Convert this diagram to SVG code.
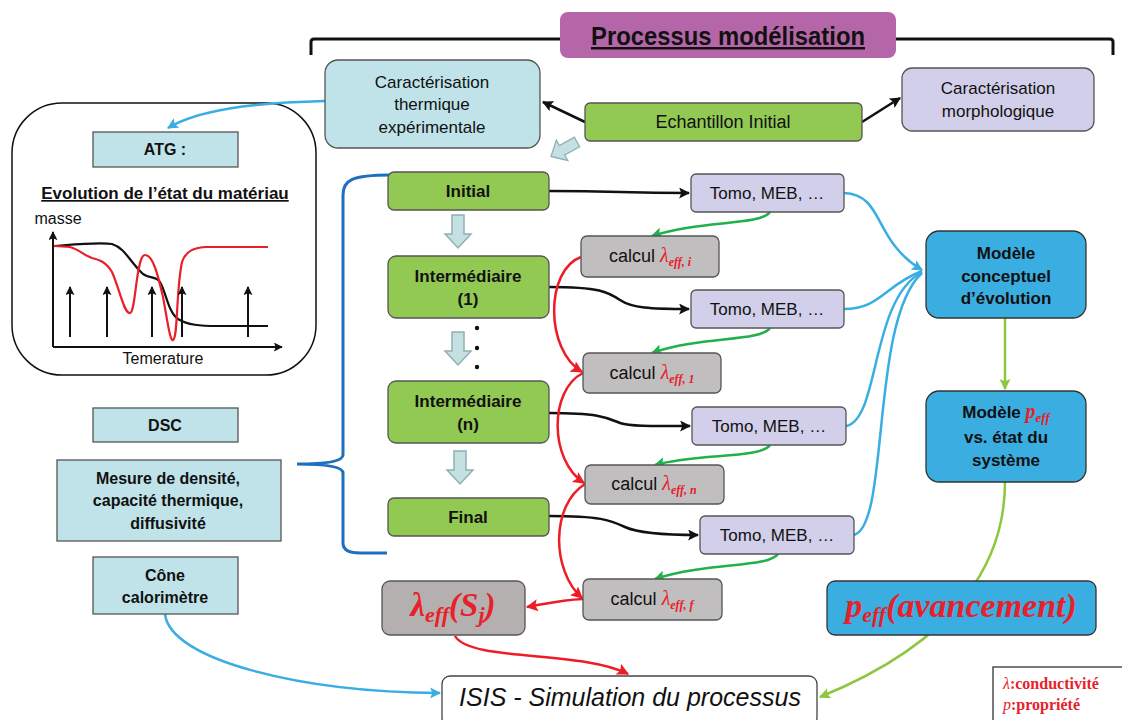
<svg xmlns="http://www.w3.org/2000/svg" width="1122" height="720" viewBox="0 0 1122 720" font-size="17">
<style>
.t{font-family:"Liberation Sans",Arial,sans-serif;fill:#111;text-anchor:middle}
.b{font-weight:bold}
.m{font-family:"Liberation Serif","Times New Roman",serif;font-style:italic;fill:#e8202a}
.lb{fill:#bfe3e9;stroke:#555;stroke-width:1.3}
.gr{fill:#92c952;stroke:#555;stroke-width:1.3}
.lv{fill:#d1cfe9;stroke:#555;stroke-width:1.3}
.gy{fill:#c0bebe;stroke:#555;stroke-width:1.3}
.bl{fill:#3aade1;stroke:#333;stroke-width:1.3}
.c{fill:none;stroke-width:2.5}
.k{stroke:#111}
.cb{stroke:#3aaee3}
.cg{stroke:#22b04b}
.cr{stroke:#ee1c24}
.cl{stroke:#8dc63f}
.hol{fill:#c5e0e3;stroke:#8fb0b3;stroke-width:1.5}
</style>
<defs>
<marker id="ak" viewBox="0 0 10 10" refX="9" refY="5" markerWidth="11" markerHeight="11" markerUnits="userSpaceOnUse" orient="auto"><path d="M0,0 L10,5 L0,10 L2,5 Z" fill="#111"/></marker>
<marker id="ab" viewBox="0 0 10 10" refX="9" refY="5" markerWidth="11" markerHeight="11" markerUnits="userSpaceOnUse" orient="auto"><path d="M0,0 L10,5 L0,10 L2,5 Z" fill="#3aaee3"/></marker>
<marker id="ag" viewBox="0 0 10 10" refX="9" refY="5" markerWidth="11" markerHeight="11" markerUnits="userSpaceOnUse" orient="auto"><path d="M0,0 L10,5 L0,10 L2,5 Z" fill="#22b04b"/></marker>
<marker id="ar" viewBox="0 0 10 10" refX="9" refY="5" markerWidth="12" markerHeight="12" markerUnits="userSpaceOnUse" orient="auto"><path d="M0,0 L10,5 L0,10 L2,5 Z" fill="#ee1c24"/></marker>
<marker id="al" viewBox="0 0 10 10" refX="9" refY="5" markerWidth="11" markerHeight="11" markerUnits="userSpaceOnUse" orient="auto"><path d="M0,0 L10,5 L0,10 L2,5 Z" fill="#8dc63f"/></marker>
<marker id="ak2" viewBox="0 0 10 10" refX="9" refY="5" markerWidth="9" markerHeight="9" markerUnits="userSpaceOnUse" orient="auto"><path d="M0,0 L10,5 L0,10 L2,5 Z" fill="#111"/></marker>
<path id="hollow" d="M-6,0 H6 V19 H13 L0,33 L-13,19 H-6 Z"/>
</defs>

<!-- bracket and title -->
<path d="M311,55 V42 Q311,39 314,39 H1110 Q1113,39 1113,42 V55" fill="none" stroke="#111" stroke-width="3"/>
<g id="title">
<rect x="560" y="12" width="336" height="46" rx="8" fill="#b466a8"/>
<text class="t b" x="728" y="45" font-size="25" text-decoration="underline" textLength="274" lengthAdjust="spacingAndGlyphs">Processus modélisation</text>
</g>

<!-- left panel -->
<g id="panel">
<rect x="12" y="103" width="304" height="272" rx="50" fill="none" stroke="#111" stroke-width="1.5"/>
<text class="t b" x="165" y="199" font-size="17" text-decoration="underline">Evolution de l’état du matériau</text>
<text class="t" x="58" y="224" font-size="16">masse</text>
<text class="t" x="163" y="364" font-size="16">Temerature</text>
<path d="M53,347 V232" fill="none" stroke="#111" stroke-width="2" marker-end="url(#ak2)"/>
<path d="M53,347 H282" fill="none" stroke="#111" stroke-width="2" marker-end="url(#ak2)"/>
<path d="M54,246 C80,244 100,242 112,244 C125,248 130,262 143,274 C150,279 156,276 160,282 C166,292 168,312 178,319 C188,325 200,326 217,326 L268,326" fill="none" stroke="#111" stroke-width="2.2"/>
<path d="M54,246 L70,247 C80,250 85,256 92,258 C100,260 106,262 112,272 C120,290 124,314 130,313 C136,312 136,255 145,255 C153,255 158,275 163,297 C167,318 170,342 173,340 C178,338 176,290 182,262 C186,250 195,248 205,247 L268,247" fill="none" stroke="#e8202a" stroke-width="2.2"/>
<g fill="none" stroke="#111" stroke-width="2">
<path d="M70,337 V287" marker-end="url(#ak2)"/>
<path d="M107,337 V287" marker-end="url(#ak2)"/>
<path d="M152,337 V287" marker-end="url(#ak2)"/>
<path d="M182,337 V287" marker-end="url(#ak2)"/>
<path d="M248,337 V287" marker-end="url(#ak2)"/>
</g>
</g>

<!-- connectors -->
<g id="connectors">
<path class="c cb" d="M325,101 C250,103 198,110 168,128" marker-end="url(#ab)"/>
<path class="c cb" d="M165,614 C170,660 300,692 440,693" marker-end="url(#ab)"/>
<path d="M390,175 C352,175 343,180 343,195 V455 Q343,464 297,464 Q343,464 343,473 V543 Q343,553 360,553 H387" fill="none" stroke="#1f6fbf" stroke-width="3"/>
<path class="c k" d="M585,122 L543,102" marker-end="url(#ak)"/>
<path class="c k" d="M862,122 L900,98" marker-end="url(#ak)"/>
<path class="c k" d="M549,191 C620,191 620,193 689,193" marker-end="url(#ak)"/>
<path class="c k" d="M549,287 C600,287 608,292 620,300 C632,308 650,309 689,309" marker-end="url(#ak)"/>
<path class="c k" d="M549,413 C600,413 608,418 620,423 C632,427 660,426 690,426" marker-end="url(#ak)"/>
<path class="c k" d="M549,516 C600,516 610,520 625,527 C640,534 670,535 698,535" marker-end="url(#ak)"/>
<path class="c cg" d="M770,212 C760,226 700,220 652,236" marker-end="url(#ag)"/>
<path class="c cg" d="M770,328 C760,342 700,336 652,353" marker-end="url(#ag)"/>
<path class="c cg" d="M770,445 C760,459 700,453 655,465" marker-end="url(#ag)"/>
<path class="c cg" d="M778,554 C768,568 708,562 655,579" marker-end="url(#ag)"/>
<path class="c cr" d="M581,257 C545,270 545,350 582,372" marker-end="url(#ar)"/>
<path class="c cr" d="M583,373 C549,390 549,460 584,483" marker-end="url(#ar)"/>
<path class="c cr" d="M585,484 C551,505 551,570 582,598" marker-end="url(#ar)"/>
<path class="c cr" d="M583,599 C560,600 545,604 527,607" marker-end="url(#ar)"/>
<path class="c cr" d="M455,636 C470,662 580,650 628,674" marker-end="url(#ar)"/>
<path class="c cb" d="M844,193 C885,195 872,240 922,270" marker-end="url(#ab)"/>
<path class="c cb" d="M844,309 C880,309 885,285 922,271"/>
<path class="c cb" d="M846,426 C880,420 870,300 922,272"/>
<path class="c cb" d="M854,535 C890,525 870,320 922,273"/>
<path class="c cl" d="M1005,318 V389" marker-end="url(#al)"/>
<path class="c cl" d="M1005,482 C1005,560 960,640 820,697" marker-end="url(#al)"/>
<use href="#hollow" class="hol" transform="translate(458,215)"/>
<use href="#hollow" class="hol" transform="translate(458,332)"/>
<use href="#hollow" class="hol" transform="translate(460,451)"/>
<use href="#hollow" class="hol" transform="translate(577,142) rotate(61) scale(0.9)"/>
<circle cx="477" cy="328" r="2.2" fill="#111"/>
<circle cx="477" cy="348" r="2.2" fill="#111"/>
<circle cx="477" cy="367" r="2.2" fill="#111"/>
</g>

<!-- top nodes -->
<g id="n-thermique">
<rect class="lb" x="325" y="60" width="215" height="88" rx="13"/>
<text class="t" x="432" y="88">Caractérisation</text>
<text class="t" x="432" y="110">thermique</text>
<text class="t" x="432" y="133">expérimentale</text>
</g>
<g id="n-echantillon">
<rect class="gr" x="585" y="103" width="277" height="38" rx="5"/>
<text class="t" x="723" y="128" font-size="18">Echantillon Initial</text>
</g>
<g id="n-morpho">
<rect class="lv" x="902" y="68" width="192" height="63" rx="10"/>
<text class="t" x="998" y="94">Caractérisation</text>
<text class="t" x="998" y="117">morphologique</text>
</g>

<!-- left boxes -->
<g id="n-atg"><rect class="lb" x="93" y="132" width="145" height="35"/><text class="t b" x="165" y="155" font-size="16">ATG :</text></g>
<g id="n-dsc"><rect class="lb" x="93" y="408" width="145" height="34"/><text class="t b" x="165" y="431" font-size="16">DSC</text></g>
<g id="n-mesure"><rect class="lb" x="57" y="460" width="224" height="81"/>
<text class="t b" x="168" y="484" font-size="16">Mesure de densité,</text>
<text class="t b" x="168" y="506" font-size="16">capacité thermique,</text>
<text class="t b" x="168" y="529" font-size="16">diffusivité</text></g>
<g id="n-cone"><rect class="lb" x="93" y="557" width="145" height="57"/>
<text class="t b" x="165" y="581" font-size="16">Cône</text>
<text class="t b" x="165" y="603" font-size="16">calorimètre</text></g>

<!-- states -->
<g id="n-initial"><rect class="gr" x="388" y="172" width="161" height="38" rx="6"/><text class="t b" x="468" y="197">Initial</text></g>
<g id="n-int1"><rect class="gr" x="388" y="256" width="161" height="62" rx="8"/><text class="t b" x="468" y="282">Intermédiaire</text><text class="t b" x="468" y="305">(1)</text></g>
<g id="n-intn"><rect class="gr" x="388" y="381" width="161" height="62" rx="8"/><text class="t b" x="468" y="407">Intermédiaire</text><text class="t b" x="468" y="430">(n)</text></g>
<g id="n-final"><rect class="gr" x="388" y="498" width="161" height="38" rx="6"/><text class="t b" x="468" y="523">Final</text></g>

<!-- Tomo -->
<g id="n-tomo1"><rect class="lv" x="691" y="174" width="153" height="38" rx="5"/><text class="t" x="767" y="199">Tomo, MEB, …</text></g>
<g id="n-tomo2"><rect class="lv" x="691" y="290" width="153" height="38" rx="5"/><text class="t" x="767" y="315">Tomo, MEB, …</text></g>
<g id="n-tomo3"><rect class="lv" x="692" y="407" width="154" height="38" rx="5"/><text class="t" x="769" y="432">Tomo, MEB, …</text></g>
<g id="n-tomo4"><rect class="lv" x="700" y="516" width="154" height="38" rx="5"/><text class="t" x="777" y="541">Tomo, MEB, …</text></g>

<!-- calcul -->
<g id="n-calci"><rect class="gy" x="581" y="236" width="138" height="41" rx="6"/><text class="t" x="650" y="262" font-size="18">calcul <tspan class="m" font-size="20">λ</tspan><tspan class="m b" font-size="12" dy="4">eff, i</tspan></text></g>
<g id="n-calc1"><rect class="gy" x="583" y="353" width="138" height="40" rx="6"/><text class="t" x="652" y="379" font-size="18">calcul <tspan class="m" font-size="20">λ</tspan><tspan class="m b" font-size="12" dy="4">eff, 1</tspan></text></g>
<g id="n-calcn"><rect class="gy" x="585" y="465" width="139" height="39" rx="6"/><text class="t" x="654" y="490" font-size="18">calcul <tspan class="m" font-size="20">λ</tspan><tspan class="m b" font-size="12" dy="4">eff, n</tspan></text></g>
<g id="n-calcf"><rect class="gy" x="583" y="579" width="139" height="41" rx="6"/><text class="t" x="652" y="605" font-size="18">calcul <tspan class="m" font-size="20">λ</tspan><tspan class="m b" font-size="12" dy="4">eff, f</tspan></text></g>

<g id="n-lambda"><rect x="382" y="581" width="143" height="54" rx="8" fill="#b4b0b0" stroke="#555" stroke-width="1.3"/>
<text class="t m b" x="453" y="616" font-size="33">λ<tspan font-size="22" dy="6">eff</tspan><tspan dy="-6">(S</tspan><tspan font-size="22" dy="6">j</tspan><tspan dy="-6">)</tspan></text></g>

<!-- models -->
<g id="n-modele"><rect class="bl" x="926" y="231" width="160" height="87" rx="13"/>
<text class="t b" x="1006" y="259">Modèle</text>
<text class="t b" x="1006" y="282">conceptuel</text>
<text class="t b" x="1006" y="304">d’évolution</text></g>
<g id="n-modelep"><rect class="bl" x="926" y="391" width="160" height="91" rx="13"/>
<text class="t b" x="1006" y="418">Modèle <tspan class="m" font-size="20">p</tspan><tspan class="m" font-size="13" dy="4">eff</tspan></text>
<text class="t b" x="1006" y="443">vs. état du</text>
<text class="t b" x="1006" y="466">système</text></g>
<g id="n-peff"><rect class="bl" x="827" y="581" width="269" height="54" rx="8"/>
<text class="t m b" x="961" y="617" font-size="34">p<tspan font-size="22" dy="5">eff</tspan><tspan dy="-5">(avancement)</tspan></text></g>

<g id="n-isis"><rect x="442" y="676" width="375" height="50" rx="8" fill="#fff" stroke="#444" stroke-width="1.3"/>
<text class="t" x="630" y="706" font-size="25" font-style="italic">ISIS - Simulation du processus</text></g>

<g id="legend"><rect x="993" y="667" width="135" height="60" fill="#fff" stroke="#222" stroke-width="1.2"/>
<text x="1003" y="689" font-family="Liberation Serif,serif" font-size="16" fill="#e8202a" font-weight="bold"><tspan font-style="italic" font-weight="normal">λ</tspan>:conductivité</text>
<text x="1003" y="710" font-family="Liberation Serif,serif" font-size="16" fill="#e8202a" font-weight="bold"><tspan font-style="italic" font-weight="normal">p</tspan>:propriété</text></g>
</svg>
